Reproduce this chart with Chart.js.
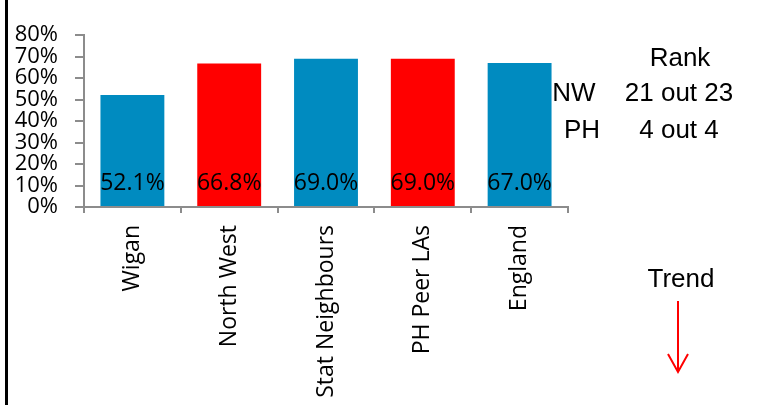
<!DOCTYPE html>
<html>
<head>
<meta charset="utf-8">
<script src="https://cdn.jsdelivr.net/npm/chart.js@4.4.1/dist/chart.umd.min.js"></script>
<style>
    html, body { margin: 0; padding: 0; background: #fff; }
    #wrap { position: relative; width: 760px; height: 405px; }
</style>
</head>
<body>
<div id="wrap"><canvas id="rankChart" width="760" height="405"></canvas></div>
<script>
// Kategorien und Werte
const categories = ["Wigan", "North West", "Stat Neighbours", "PH Peer LAs", "England"];
const values = [52.1, 66.8, 69.0, 69.0, 67.0];
const barColors = ["#008BC0", "#FF0000", "#008BC0", "#FF0000", "#008BC0"];
const yTicks = [0, 10, 20, 30, 40, 50, 60, 70, 80];

// Rang-Text rechts
const rankRows = [
    { label: "", text: "Rank" },
    { label: "NW", text: "21 out 23" },
    { label: "PH", text: "4 out 4" }
];

const axisGray = "#8C8C8C";

// Werte in den Balken, Rahmenlinie, Rang und Trendpfeil
const extrasPlugin = {
    id: "extras",
    afterDatasetsDraw(chart) {
        const ctx = chart.ctx;
        const yScale = chart.scales.y;
        const meta = chart.getDatasetMeta(0);

        ctx.save();
        ctx.fillStyle = "#000";
        ctx.font = "23px 'Open Sans'";
        ctx.textAlign = "center";
        ctx.textBaseline = "middle";
        meta.data.forEach((bar, i) => {
            ctx.fillText(values[i].toFixed(1) + "%", bar.x, yScale.getPixelForValue(0) - 24);
        });

        // schwarze Linie links
        ctx.fillStyle = "#000";
        ctx.fillRect(5, 0, 3, chart.height);

        // Rang
        ctx.font = "26px 'Liberation Sans'";
        ctx.textBaseline = "alphabetic";
        ctx.fillText(rankRows[0].text, 680, 66);
        ctx.fillText(rankRows[1].label, 574, 101);
        ctx.fillText(rankRows[1].text, 679, 101);
        ctx.fillText(rankRows[2].label, 582, 138);
        ctx.fillText(rankRows[2].text, 679, 138);

        // Trend
        ctx.fillText("Trend", 681, 287);
        ctx.strokeStyle = "#FF0000";
        ctx.lineWidth = 2;
        ctx.beginPath();
        ctx.moveTo(678, 301);
        ctx.lineTo(678, 372);
        ctx.moveTo(668, 354);
        ctx.lineTo(678, 372);
        ctx.lineTo(688, 354);
        ctx.stroke();
        ctx.restore();
    }
};

const ctx = document.getElementById("rankChart").getContext("2d");
new Chart(ctx, {
    type: "bar",
    data: {
        labels: categories,
        datasets: [{
            data: values,
            backgroundColor: barColors,
            borderWidth: 0,
            categoryPercentage: 1.0,
            barPercentage: 0.66
        }]
    },
    options: {
        responsive: false,
        animation: false,
        devicePixelRatio: 1,
        layout: { padding: { left: 8, top: 35, right: 192, bottom: 0 } },
        plugins: {
            legend: { display: false },
            tooltip: { enabled: false }
        },
        scales: {
            x: {
                grid: {
                    drawOnChartArea: false,
                    drawTicks: true,
                    tickLength: 6,
                    color: axisGray,
                    lineWidth: 2
                },
                border: { color: axisGray, width: 2 },
                ticks: {
                    color: "#000",
                    font: { family: "'Open Sans'", size: 23 },
                    minRotation: 90,
                    maxRotation: 90,
                    padding: 12,
                    autoSkip: false
                },
                afterFit: (scale) => { scale.height = 198; }
            },
            y: {
                min: 0,
                max: 80,
                afterBuildTicks: (scale) => {
                    scale.ticks = yTicks.map(v => ({ value: v }));
                },
                grid: {
                    drawOnChartArea: false,
                    drawTicks: true,
                    tickLength: 9,
                    color: axisGray,
                    lineWidth: 2
                },
                border: { color: axisGray, width: 2 },
                ticks: {
                    color: "#000",
                    font: { family: "'Open Sans'", size: 22, lineHeight: 1 },
                    padding: 17,
                    autoSkip: false,
                    callback: (v) => v + "%"
                },
                afterFit: (scale) => { scale.width = 76; }
            }
        }
    },
    plugins: [extrasPlugin]
});
</script>
</body>
</html>
